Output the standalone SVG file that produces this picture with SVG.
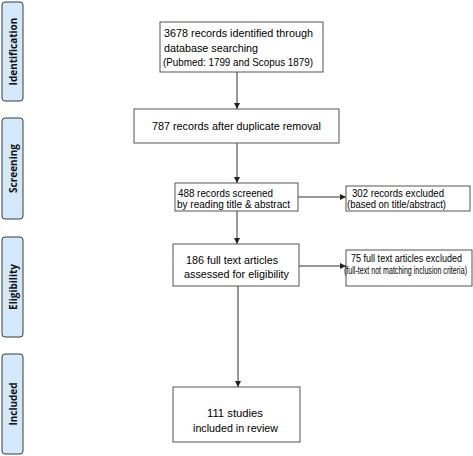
<svg xmlns="http://www.w3.org/2000/svg" width="473" height="456" viewBox="0 0 473 456">
<defs>
<style>
.box{fill:#fff;stroke:#555;stroke-width:1}
.side{fill:#d3e8f8;stroke:#3a3a3a;stroke-width:1}
.t{font-family:"Liberation Sans",Arial,sans-serif;font-size:11px;fill:#000}
.st{font-family:"Open Sans","Liberation Sans",sans-serif;font-size:10px;font-weight:bold;fill:#111}
.c{stroke:#333;stroke-width:1;fill:none;marker-end:url(#ah)}
</style>
<marker id="ah" viewBox="0 0 10 10" refX="10" refY="5" markerWidth="6" markerHeight="6" markerUnits="userSpaceOnUse" orient="auto">
<path d="M0,0 L10,5 L0,10 z" fill="#222"/>
</marker>
</defs>
<rect width="473" height="456" fill="#fff"/>
<g id="stage-identification"><rect class="side" x="2" y="2" width="21" height="99" rx="3"/><text class="st" transform="translate(16.5,51.5) rotate(-90)" text-anchor="middle">Identification</text></g>
<g id="stage-screening"><rect class="side" x="2" y="118" width="21" height="101" rx="3"/><text class="st" transform="translate(16.5,168.5) rotate(-90)" text-anchor="middle">Screening</text></g>
<g id="stage-eligibility"><rect class="side" x="2" y="237" width="21" height="100" rx="3"/><text class="st" transform="translate(16.5,287) rotate(-90)" text-anchor="middle">Eligibility</text></g>
<g id="stage-included"><rect class="side" x="2" y="354" width="21" height="100" rx="3"/><text class="st" transform="translate(16.5,404) rotate(-90)" text-anchor="middle">Included</text></g>
<g id="connectors">
<line class="c" x1="237" y1="72" x2="237" y2="109"/>
<line class="c" x1="237" y1="143" x2="237" y2="183"/>
<line class="c" x1="237" y1="211" x2="237" y2="244"/>
<line class="c" x1="238" y1="286" x2="238" y2="387"/>
<line class="c" x1="298" y1="197" x2="346" y2="197"/>
<line class="c" x1="299" y1="266" x2="346" y2="266"/>
</g>
<g id="identified"><rect class="box" x="160" y="22" width="163" height="50"/>
<text class="t" x="164" y="37" textLength="149" lengthAdjust="spacingAndGlyphs">3678 records identified through</text>
<text class="t" x="164" y="52" textLength="94" lengthAdjust="spacingAndGlyphs">database searching</text>
<text class="t" x="163" y="66" textLength="150" lengthAdjust="spacingAndGlyphs">(Pubmed: 1799 and Scopus 1879)</text></g>
<g id="deduplicated"><rect class="box" x="134" y="109" width="205" height="34"/>
<text class="t" x="152" y="130" textLength="169" lengthAdjust="spacingAndGlyphs">787 records after duplicate removal</text></g>
<g id="screened"><rect class="box" x="175" y="183" width="123" height="28"/>
<text class="t" x="178" y="196.5" font-size="10.5" textLength="95" lengthAdjust="spacingAndGlyphs">488 records screened</text>
<text class="t" x="177" y="207.5" font-size="10.5" textLength="113" lengthAdjust="spacingAndGlyphs">by reading title &amp; abstract</text></g>
<g id="excluded-title"><rect class="box" x="346" y="186" width="124" height="25"/>
<text class="t" x="352" y="197" textLength="92" lengthAdjust="spacingAndGlyphs">302 records excluded</text>
<text class="t" x="347" y="208" textLength="99" lengthAdjust="spacingAndGlyphs">(based on title/abstract)</text></g>
<g id="fulltext"><rect class="box" x="173" y="244" width="126" height="42"/>
<text class="t" x="186" y="264" textLength="92" lengthAdjust="spacingAndGlyphs">186 full text articles</text>
<text class="t" x="184" y="278" textLength="105" lengthAdjust="spacingAndGlyphs">assessed for eligibility</text></g>
<g id="excluded-fulltext"><rect class="box" x="346" y="250" width="126" height="36"/>
<text class="t" x="351" y="262" textLength="111" lengthAdjust="spacingAndGlyphs">75 full text articles excluded</text>
<text class="t" x="344" y="274" font-size="9.5" textLength="123" lengthAdjust="spacingAndGlyphs">(full-text not matching inclusion criteria)</text></g>
<g id="included"><rect class="box" x="173" y="387" width="127" height="55"/>
<text class="t" x="207" y="417" textLength="56" lengthAdjust="spacingAndGlyphs">111 studies</text>
<text class="t" x="193" y="432" textLength="85" lengthAdjust="spacingAndGlyphs">included in review</text></g>
</svg>
